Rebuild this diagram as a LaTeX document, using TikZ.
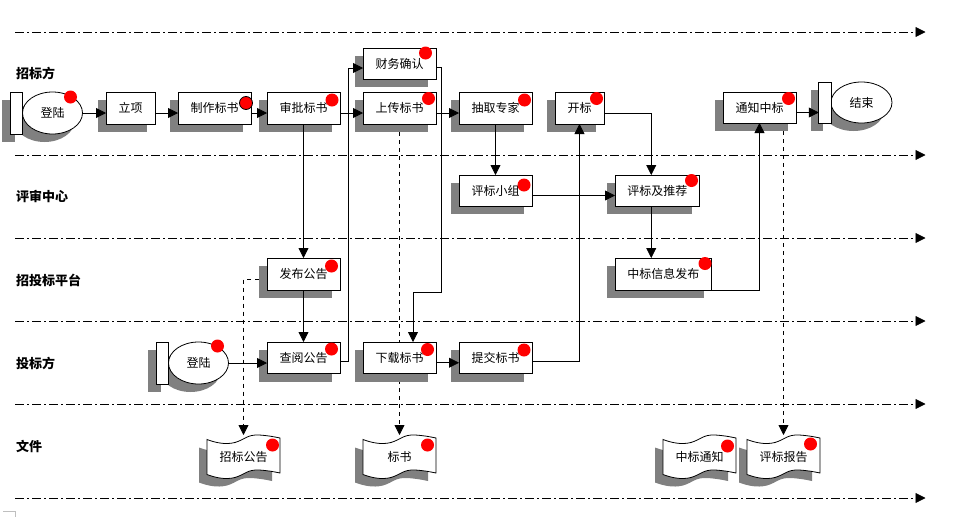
\documentclass[tikz,border=0pt]{standalone}
\usepackage{fontspec}
\setmainfont{Noto Sans CJK SC}
\usepackage{xcolor}
\usetikzlibrary{arrows.meta, backgrounds, shadows, shapes.geometric}
\definecolor{shadowgray}{HTML}{808080}
\tikzset{
    bodyfont/.style={font=\fontsize{12}{14}\selectfont},
    boxshadow/.style={drop shadow={shadow xshift=-8pt, shadow yshift=-8pt, opacity=1, fill=shadowgray}},
    taskbox/.style={draw, line width=0.8pt, fill=white, inner sep=0pt, outer sep=0pt, minimum width=73pt, minimum height=32pt, bodyfont, boxshadow},
    barbox/.style={draw, line width=0.8pt, fill=white, inner sep=0pt, outer sep=0pt, minimum width=12.5pt, minimum height=42pt, boxshadow},
    ovalbox/.style={draw, ellipse, line width=0.8pt, fill=white, inner sep=0pt, outer sep=0pt, minimum width=60pt, minimum height=42pt, bodyfont, boxshadow},
    doctext/.style={inner sep=0pt, outer sep=0pt, minimum width=73pt, minimum height=44pt, bodyfont},
    lanelabel/.style={inner sep=0pt, anchor=west, font=\fontsize{13}{15}\selectfont\bfseries},
    reddot/.style={circle, fill=red, inner sep=0pt, minimum size=13pt},
    flow/.style={line width=0.8pt, -{Triangle[length=10pt, width=10pt]}},
    docflow/.style={flow, dash pattern=on 4pt off 4pt},
    lane/.style={line width=0.8pt, dash pattern=on 9pt off 3pt on 2pt off 3pt, -{Triangle[length=10pt, width=10pt]}},
    docwave/.pic={
        \fill[shadowgray] (-8,8) .. controls (0,11) and (10,13.5) .. (20,11) .. controls (30,8) and (32,3) .. (44,3.5) -- (65,6.5) -- (65,41.5) .. controls (58,40) and (52,39) .. (44,38.5) .. controls (32,38) and (30,43) .. (20,46) .. controls (10,48.5) and (0,46) .. (-8,43) -- cycle;
        \draw[line width=0.8pt, fill=white] (0,0) .. controls (8,3) and (18,5.5) .. (28,3) .. controls (38,0) and (40,-5) .. (52,-4.5) .. controls (60,-4) and (66,-3) .. (73,-1.5) -- (73,33.5) .. controls (66,32) and (60,31) .. (52,30.5) .. controls (40,30) and (38,35) .. (28,38) .. controls (18,40.5) and (8,38) .. (0,35) -- cycle;
    }
}
\begin{document}
\begin{tikzpicture}[x=1pt, y=-1pt]
        \useasboundingbox (0,0) rectangle (970,517);

        % swimlanes
        \foreach \y [count=\i] in {32,155,238,321,404,498} {
            \coordinate (lanestart\i) at (15,\y);
            \coordinate (laneend\i) at (925.5,\y);
            \draw[lane] (lanestart\i)--(laneend\i);
        }

        \node[lanelabel] (lblbuyer) at (16,73) {招标方};
        \node[lanelabel] (lblcenter) at (16,196) {评审中心};
        \node[lanelabel] (lblplatform) at (16,280) {招投标平台};
        \node[lanelabel] (lblbidder) at (16,363) {投标方};
        \node[lanelabel] (lblfile) at (16,446) {文件};

        % first row
        \node[ovalbox] (login) at (52.5,113) {登陆};
        \node[barbox] (loginbar) at (16.25,113) {};
        \node[taskbox, minimum width=49pt] (setup) at (130.5,108) {立项};
        \node[taskbox] (draft) at (214.5,108) {制作标书};
        \node[taskbox] (approve) at (303.5,108) {审批标书};
        \node[taskbox, minimum height=31pt] (confirm) at (399.5,63.5) {财务确认};
        \node[taskbox] (upload) at (399.5,108) {上传标书};
        \node[taskbox] (pick) at (495.5,108) {抽取专家};
        \node[taskbox, minimum width=49pt] (opening) at (579.5,108) {开标};
        \node[taskbox, minimum height=31pt] (notify) at (759.5,107.5) {通知中标};
        \node[ovalbox, minimum width=61pt, minimum height=41pt] (finish) at (861.5,102.5) {结束};
        \node[barbox, minimum height=41pt] (finishbar) at (825,102.5) {};

        % review centre
        \node[taskbox, minimum height=31pt] (panel) at (495.5,190.5) {评标小组};
        \node[taskbox, minimum width=84.5pt, minimum height=31pt] (review) at (657.25,190.5) {评标及推荐};

        % platform
        \node[taskbox] (publish) at (303.5,274) {发布公告};
        \node[taskbox, minimum width=96.5pt] (winner) at (663.25,274) {中标信息发布};

        % bidder
        \node[ovalbox] (bidlogin) at (198.5,363) {登陆};
        \node[barbox] (bidloginbar) at (162.25,363) {};
        \node[taskbox, minimum height=31.5pt] (consult) at (303.5,357.75) {查阅公告};
        \node[taskbox, minimum height=31.5pt] (download) at (399.5,357.75) {下载标书};
        \node[taskbox, minimum height=31.5pt] (submit) at (495.5,357.75) {提交标书};

        % documents
        \foreach \x in {207,363,663,747} \pic at (\x,439.5) {docwave};
        \node[doctext] (noticedoc) at (243.5,457) {招标公告};
        \node[doctext] (biddoc) at (399.5,457) {标书};
        \node[doctext] (windoc) at (699.5,457) {中标通知};
        \node[doctext] (reportdoc) at (783.5,457) {评标报告};

        % connectors
        \draw[flow] (login.east |- loginbar) -- (loginbar -| setup.west);
        \draw[flow] (bidlogin.east) -- (bidlogin -| consult.west);
        \foreach \from/\to in {setup/draft,draft/approve,approve/upload,upload/pick,download/submit}
            \draw[flow] ([yshift=-5pt]\from.east) -- ([yshift=-5pt]\to.west);
        \draw[flow] ([yshift=-5pt]notify.east) -- ([yshift=-5pt]notify.east -| finishbar.west);
        \foreach \from/\to in {approve/publish,publish/consult,pick/panel}
            \draw[flow] (\from.south -| \to.north) -- (\to.north);
        \draw[flow] ([xshift=-6pt]review.south) -- ([xshift=-12pt]winner.north);
        \draw[flow] ([yshift=-5pt]panel.east) -- ([yshift=-5pt]panel.east -| review.west);
        \draw[flow] ([yshift=-5pt]opening.east) -| ([xshift=-6pt]review.north);
        \draw[flow] ([yshift=-4pt]consult.east) -- ++(8,0) |- ([yshift=-4.5pt]confirm.west);
        \draw[flow] ([yshift=-3.5pt]confirm.east) -- ++(5,0) |- ([xshift=13.5pt,yshift=50pt]download.north) -- ([xshift=13.5pt]download.north);
        \draw[flow] ([yshift=-4pt]submit.east) -| (opening.south);
        \draw[flow] (winner.south east) -| (notify.south);
        \begin{scope}[on background layer]
            \draw[docflow] ([yshift=-5pt]publish.west) -| (noticedoc.north);
            \draw[docflow] (upload.south) -- (biddoc.north);
            \draw[docflow] (reportdoc.north |- notify.south) -- (reportdoc.north);
        \end{scope}

        % red marks
        \foreach \x/\y [count=\i] in {70.5/97,332/100,425.5/53,428.5/98.5,524.5/100,596.5/98.5,788.5/98.5,
            524/185,691.5/180.5,331.5/266,705/263.5,217.5/346,331.5/349,427.5/349.5,524/350,
            272.5/445,427.5/445,727.5/446,810.5/444}
            \node[reddot] (mark\i) at (\x,\y) {};
        \node[reddot, draw, line width=0.8pt] (markdraft) at (246,103) {};

        % page corner
        \draw[line width=0.8pt, black!25] (3,511) -- (15,511) -- (15,517);
        \end{tikzpicture}
\end{document}
